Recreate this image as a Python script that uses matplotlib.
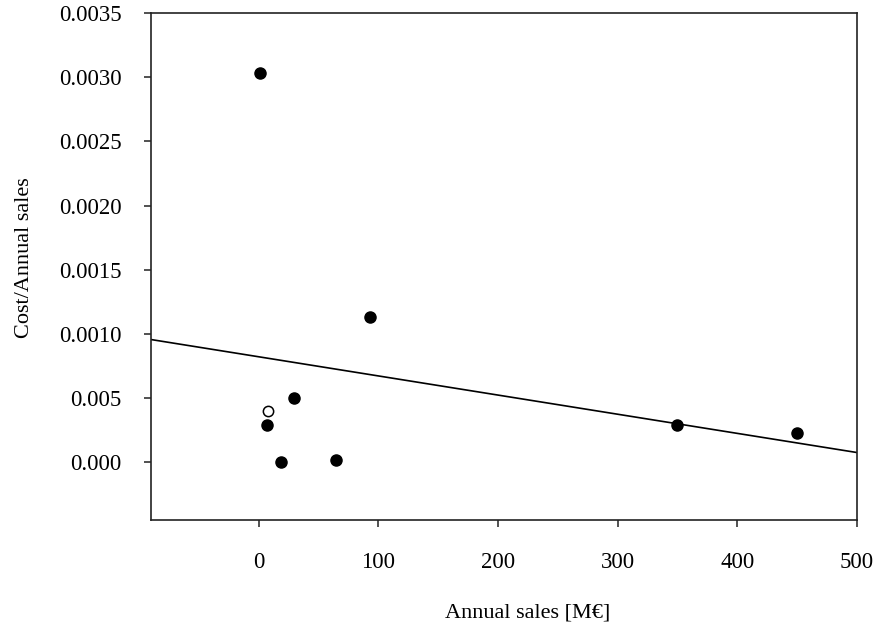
import matplotlib
matplotlib.use("Agg")
import matplotlib.pyplot as plt
import numpy as np

# Data
sales_filled = [1.25, 93.0, 29.7, 6.8, 18.5, 65.0, 349.6, 449.6]
ratio_filled = [0.00303, 0.00113, 0.000499, 0.000288, 0.0, 0.0000156, 0.000288, 0.000231]
sales_open = [7.7]
ratio_open = [0.000400]

fit_x = [-90, 500]
fit_y = [0.000956, 0.0000756]

x_ticks = [0, 100, 200, 300, 400, 500]
y_ticks = [0.0, 0.0005, 0.0010, 0.0015, 0.0020, 0.0025, 0.0030, 0.0035]
y_tick_labels = ["0.000", "0.005", "0.0010", "0.0015", "0.0020", "0.0025", "0.0030", "0.0035"]

plt.rcParams['font.family'] = ['Liberation Serif', 'DejaVu Serif']

fig = plt.figure(figsize=(8.77, 6.24), dpi=100)
ax = fig.add_axes([151/877, 1-520/624, (857-151)/877, (520-13)/624])

ax.plot(fit_x, fit_y, color='black', linewidth=1.2, zorder=2)
ax.scatter(sales_filled, ratio_filled, s=64, color='black', zorder=3)
ax.scatter(sales_open, ratio_open, s=55, facecolors='white', edgecolors='black', linewidths=1.1, zorder=3)

ax.set_xlim(-90, 500)
ax.set_ylim(-0.00045, 0.0035)
ax.set_xticks(x_ticks)
ax.set_xticklabels([str(v) for v in x_ticks])
ax.set_yticks(y_ticks)
ax.set_yticklabels(y_tick_labels)

ax.tick_params(direction='out', length=5, width=1.1, labelsize=16.5, color='#222222')
ax.tick_params(axis='y', pad=16)
ax.tick_params(axis='x', pad=18)
for sp in ax.spines.values():
    sp.set_linewidth(1.2)
    sp.set_color('#222222')

ax.set_xlabel("Annual sales [M€]", fontsize=16)
ax.set_ylabel("Cost/Annual sales", fontsize=16)
ax.xaxis.set_label_coords(0.533, -0.165)
ax.yaxis.set_label_coords(-0.166, 0.517)

fig.savefig("out.png", dpi=100)
